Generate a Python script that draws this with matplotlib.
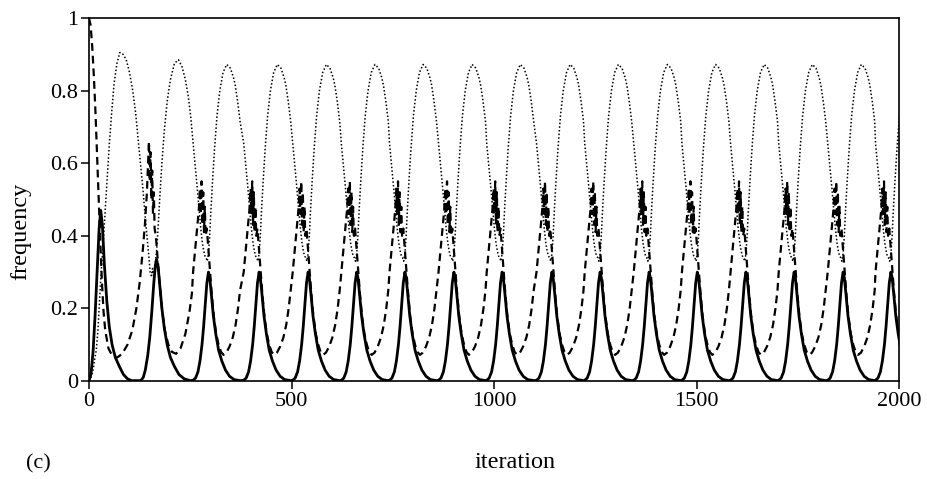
import matplotlib

matplotlib.use("Agg")
import matplotlib.pyplot as plt
import numpy as np

plt.rcParams["font.family"] = ["Liberation Serif", "DejaVu Serif"]

# first two cycles (transient), read point by point: (iteration, frequency)
solid_start = [
    (0, 0.0), (5, 0.02), (10, 0.08), (15, 0.18), (20, 0.30), (25, 0.42),
    (29, 0.47), (33, 0.43), (38, 0.32), (44, 0.22), (50, 0.15), (57, 0.10),
    (65, 0.065), (75, 0.04), (85, 0.018), (95, 0.006), (105, 0.001),
    (128, 0.001), (134, 0.01), (139, 0.03), (145, 0.07), (150, 0.12),
    (155, 0.19), (160, 0.27), (164, 0.32), (167, 0.335), (171, 0.31),
    (175, 0.26), (180, 0.20), (186, 0.145), (193, 0.10), (201, 0.065),
    (211, 0.04), (222, 0.018), (235, 0.006), (250, 0.001),
]
dashed_start = [
    (0, 1.0), (4, 0.98), (8, 0.92), (12, 0.84), (16, 0.74), (20, 0.62),
    (24, 0.50), (28, 0.38), (32, 0.27), (36, 0.19), (40, 0.14), (48, 0.09),
    (58, 0.068), (70, 0.065), (82, 0.075), (95, 0.10), (107, 0.14),
    (117, 0.20), (125, 0.27), (132, 0.35), (138, 0.43), (143, 0.52),
    (146, 0.60), (148, 0.66), (150, 0.55), (152, 0.63), (154, 0.50),
    (156, 0.58), (158, 0.46), (160, 0.52), (162, 0.42), (165, 0.40),
    (170, 0.33), (175, 0.26), (181, 0.19), (188, 0.135), (196, 0.10),
    (205, 0.08), (215, 0.075), (226, 0.09), (238, 0.13), (248, 0.19),
    (254, 0.24),
]
dotted_start = [
    (0, 0.0), (5, 0.01), (10, 0.03), (14, 0.06), (18, 0.085), (22, 0.14),
    (26, 0.22), (30, 0.30), (35, 0.38), (40, 0.47), (44, 0.54), (50, 0.65),
    (56, 0.74), (62, 0.82), (69, 0.875), (76, 0.905), (84, 0.90),
    (92, 0.885), (100, 0.85), (108, 0.80), (115, 0.74), (121, 0.67),
    (127, 0.60), (133, 0.53), (139, 0.45), (144, 0.39), (148, 0.34),
    (151, 0.30), (154, 0.29), (157, 0.31), (160, 0.28), (163, 0.32),
    (167, 0.36), (171, 0.43), (175, 0.51), (180, 0.60), (186, 0.69),
    (193, 0.77), (201, 0.83), (211, 0.875), (221, 0.885), (230, 0.865),
    (238, 0.83), (245, 0.785), (251, 0.73),
]

# later cycles look alike: positions of the solid peaks
solid_peaks = [295, 420, 541, 661, 780, 901, 1020, 1143, 1262, 1383,
               1502, 1622, 1741, 1862, 1980]

# one settled cycle, read around a solid peak: (offset from peak, frequency)
solid_cycle = [
    (-38, 0.002), (-32, 0.008), (-26, 0.025), (-21, 0.055), (-16, 0.10),
    (-12, 0.15), (-8, 0.21), (-4, 0.27), (0, 0.30), (3, 0.285), (7, 0.24),
    (12, 0.18), (18, 0.13), (25, 0.085), (33, 0.055), (42, 0.03),
    (52, 0.013), (63, 0.004), (78, 0.001),
]
dashed_cycle = [
    (-38, 0.30), (-33, 0.36), (-28, 0.42), (-24, 0.47), (-21, 0.53),
    (-19, 0.46), (-17, 0.55), (-15, 0.43), (-13, 0.52), (-11, 0.41),
    (-9, 0.48), (-7, 0.40), (-4, 0.42), (0, 0.36), (4, 0.30), (8, 0.24),
    (13, 0.18), (19, 0.13), (25, 0.10), (31, 0.08), (37, 0.072),
    (44, 0.078), (52, 0.095), (60, 0.12), (67, 0.155), (73, 0.20),
    (78, 0.25),
]
dotted_cycle = [
    (-38, 0.655), (-33, 0.595), (-28, 0.535), (-23, 0.47), (-19, 0.42),
    (-15, 0.38), (-12, 0.36), (-9, 0.345), (-6, 0.34), (-3, 0.33),
    (0, 0.35), (3, 0.40), (6, 0.47), (10, 0.55), (15, 0.64), (21, 0.73),
    (28, 0.80), (36, 0.85), (45, 0.872), (54, 0.862), (62, 0.835),
    (66, 0.815), (72, 0.77), (78, 0.715),
]


def build(start, cycle):
    pts = list(start)
    for peak in solid_peaks:
        pts += [(peak + dx, y) for dx, y in cycle]
    arr = np.array(pts)
    return arr[:, 0], arr[:, 1]


fig = plt.figure(figsize=(9.27, 4.79), dpi=100)
ax = fig.add_axes([89 / 927, 98 / 479, 810 / 927, 363 / 479])

x, y = build(dotted_start, dotted_cycle)
ax.plot(x, y, color="black", lw=1.1, linestyle=(0, (1, 1.4)))
x, y = build(dashed_start, dashed_cycle)
ax.plot(x, y, color="black", lw=1.6, linestyle=(0, (3.5, 2.2)))
x, y = build(solid_start, solid_cycle)
ax.plot(x, y, color="black", lw=2.0)

ax.set_xlim(0, 2000)
ax.set_ylim(0, 1)
ax.set_xticks([0, 500, 1000, 1500, 2000])
ax.set_yticks([0, 0.2, 0.4, 0.6, 0.8, 1])
ax.set_yticklabels(["0", "0.2", "0.4", "0.6", "0.8", "1"])
ax.tick_params(direction="out", length=6, width=1.1, labelsize=16, pad=2)
for side in ax.spines.values():
    side.set_linewidth(1.2)

fig.text(21 / 927, 1 - 231 / 479, "frequency", rotation=90,
         ha="center", va="center", fontsize=17.5)
fig.text(515 / 927, 1 - 463 / 479, "iteration",
         ha="center", va="center", fontsize=17.5)
fig.text(38 / 927, 1 - 464 / 479, "(c)",
         ha="center", va="center", fontsize=16)

fig.savefig("out.png", dpi=100)
